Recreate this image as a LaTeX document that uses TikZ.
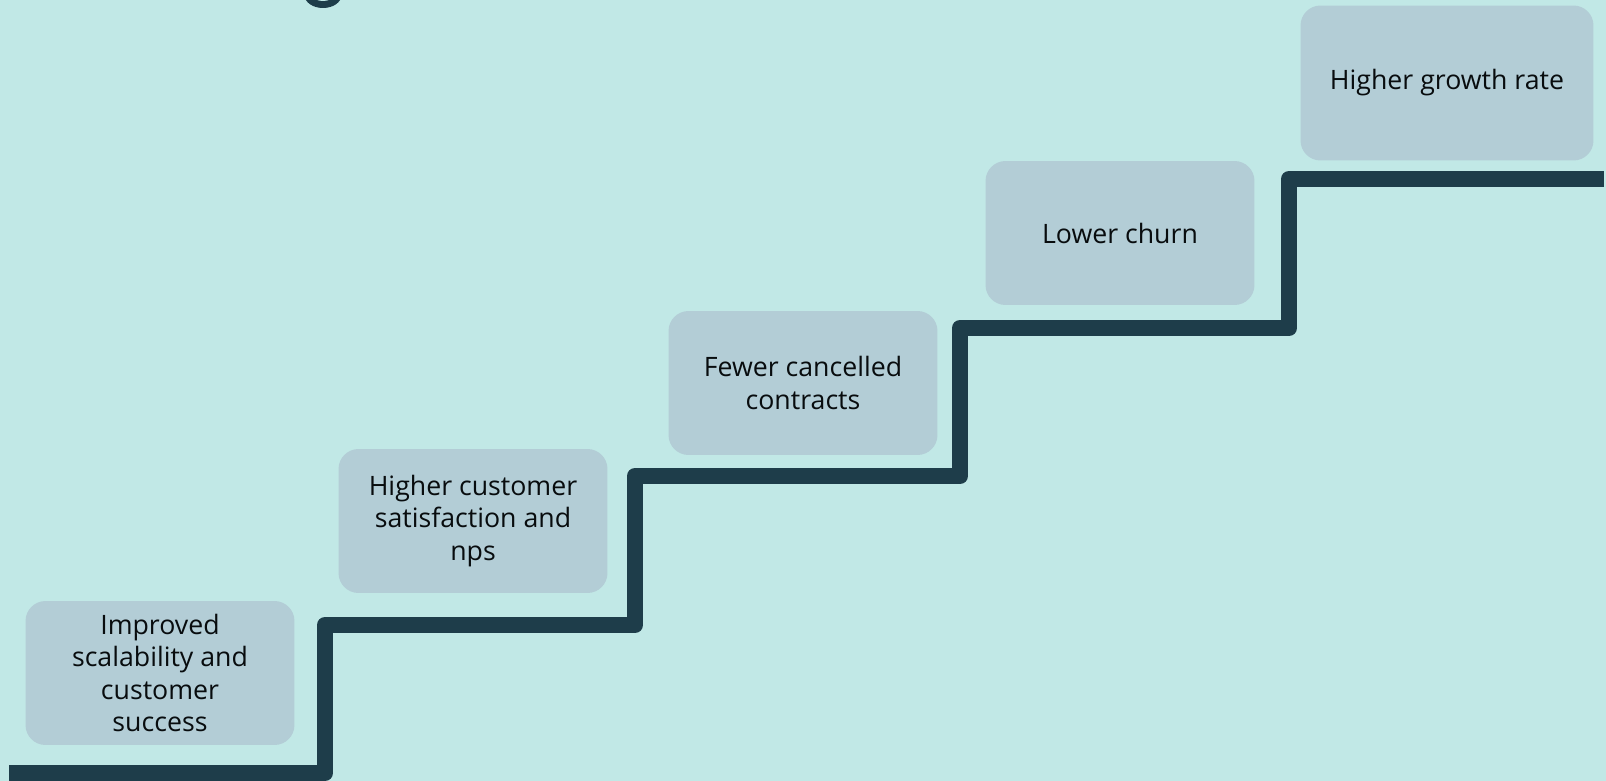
\documentclass[tikz,border=0pt]{standalone}
\usepackage{fontspec}
\setmainfont{Open Sans}
\definecolor{fondo}{HTML}{C1E8E6}
\definecolor{caja}{HTML}{B3CDD6}
\definecolor{linea}{HTML}{1E3D4A}
\definecolor{texto}{HTML}{080C0E}

\begin{document}
\begin{tikzpicture}[x=0.02cm,y=-0.02cm,
    paso/.style={fill=caja,rounded corners=0.4cm,text=texto,align=center,
      minimum width=5.38cm,minimum height=2.88cm,
      font=\fontsize{15.2}{18.4}\selectfont}]
  \fill[fondo] (0,0) rectangle (1606,781);
  \useasboundingbox (0,0) rectangle (1606,781);
  % titulo (cortado)
  \fill[linea] (323,-5) ellipse [x radius=0.37cm,y radius=0.26cm];
  \fill[fondo] (323,-4) ellipse [x radius=0.2cm,y radius=0.1cm];
  % escalera
  \coordinate (e0) at (9,773);
  \coordinate (e1) at (325,773);
  \coordinate (e2) at (325,625);
  \coordinate (e3) at (635,625);
  \coordinate (e4) at (635,476);
  \coordinate (e5) at (960,476);
  \coordinate (e6) at (960,328);
  \coordinate (e7) at (1289,328);
  \coordinate (e8) at (1289,179);
  \coordinate (e9) at (1604,179);
  \draw[linea,line width=9.1pt,line join=round]
    (e0)--(e1)--(e2)--(e3)--(e4)--(e5)--(e6)--(e7)--(e8)--(e9);
  % pasos
  \node[paso] (p1) at (160,673) {Improved\\scalability and\\customer\\success};
  \node[paso] (p2) at (473,521) {Higher customer\\satisfaction and\\nps};
  \node[paso] (p3) at (803,383) {Fewer cancelled\\contracts};
  \node[paso] (p4) at (1120,233) {Lower churn};
  \node[paso,minimum width=5.86cm,minimum height=3.1cm] (p5) at (1447,83) {Higher growth rate};
\end{tikzpicture}
\end{document}
